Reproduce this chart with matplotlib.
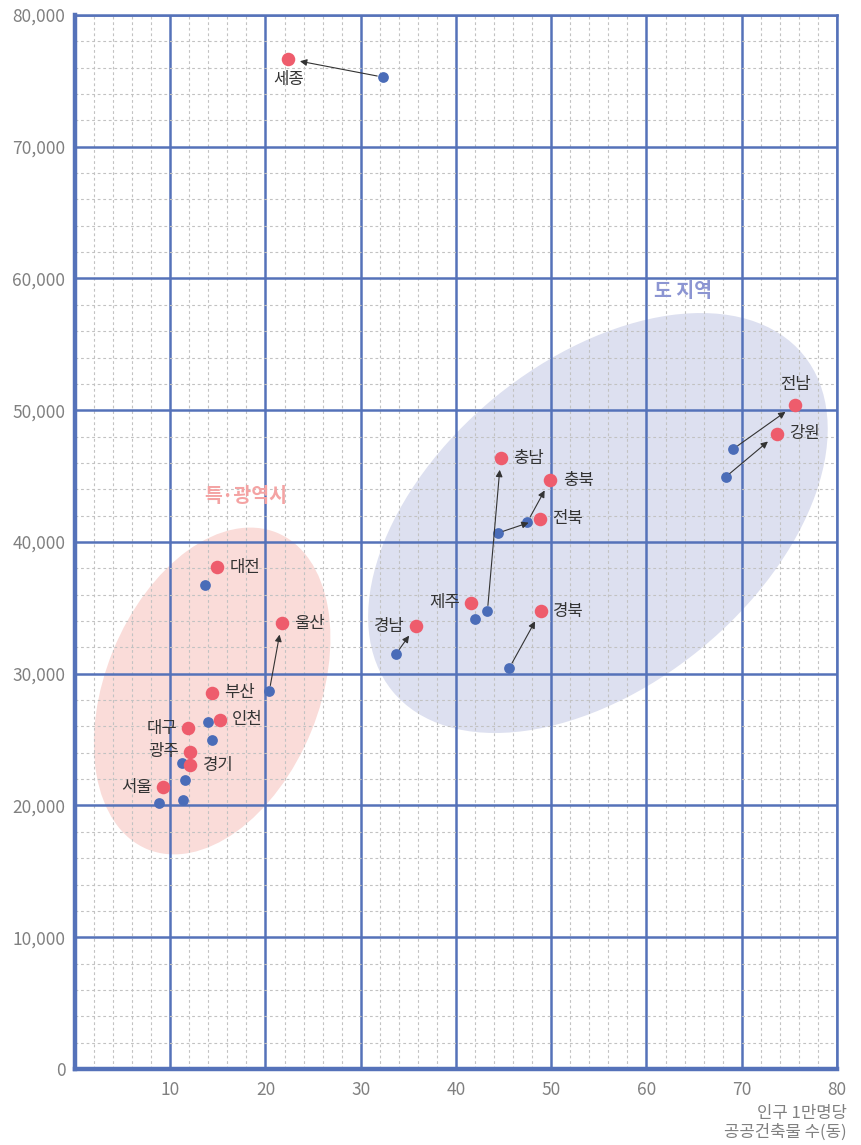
import matplotlib
matplotlib.use("Agg")
import matplotlib.pyplot as plt
from matplotlib.patches import Ellipse
from matplotlib.transforms import ScaledTranslation

plt.rcParams["font.family"] = ["Noto Sans CJK KR", "DejaVu Sans"]

# 지역별 인구 1만명당 공공건축물 수(동) / 값
regions = ["세종", "대전", "울산", "부산", "인천", "대구", "광주", "경기", "서울",
           "충남", "충북", "전북", "제주", "경북", "경남", "전남", "강원"]
prev_x = [32.3, 13.7, 20.4, 14.0, 14.4, 11.2, 11.6, 11.3, 8.8,
          43.3, 47.5, 44.4, 42.0, 45.6, 33.7, 69.1, 68.3]
prev_y = [75290, 36740, 28690, 26340, 24970, 23220, 21930, 20420, 20190,
          34760, 41520, 40680, 34160, 30440, 31500, 47060, 44930]
curr_x = [22.4, 14.9, 21.7, 14.4, 15.2, 11.9, 12.1, 12.1, 9.2,
          44.7, 49.9, 48.8, 41.6, 48.9, 35.8, 75.6, 73.7]
curr_y = [76660, 38100, 33850, 28540, 26490, 25880, 24060, 23070, 21400,
          46370, 44700, 41750, 35370, 34760, 33620, 50400, 48200]
has_arrow = [True, False, True, False, False, False, False, False, False,
             True, True, True, False, True, True, True, True]
label_side = ["below", "right", "right", "right", "right", "left", "left", "right", "left",
              "right", "right", "right", "left", "right", "left", "above", "right"]

group_names = ["특·광역시", "도 지역"]

GRID_BLUE = "#5572b9"
RED = "#ee5c6c"
BLUE = "#4a6cb8"

fig = plt.figure(figsize=(8.62, 11.45), dpi=100)
ax = fig.add_axes([0.087, 0.0664, 0.884, 0.9205])

ax.set_xlim(0, 80)
ax.set_ylim(0, 80000)
ax.set_xticks(range(10, 81, 10))
ax.set_yticks(range(0, 80001, 10000))
ax.set_xticks(range(2, 80, 2), minor=True)
ax.set_yticks(range(2000, 80000, 2000), minor=True)
ax.set_yticklabels([f"{v:,}" for v in range(0, 80001, 10000)])
ax.set_axisbelow(True)
ax.grid(which="major", color=GRID_BLUE, lw=1.8)
ax.grid(which="minor", color="#c2c2c2", lw=0.8, ls=(0, (2.5, 2.5)))
ax.tick_params(which="both", length=0)
ax.tick_params(axis="x", pad=9, labelsize=12.5, labelcolor="#808080")
ax.tick_params(axis="y", pad=7, labelsize=12.5, labelcolor="#808080")
for side in ["left", "bottom"]:
    ax.spines[side].set_linewidth(3.2)
    ax.spines[side].set_color(GRID_BLUE)
for side in ["top", "right"]:
    ax.spines[side].set_linewidth(1.8)
    ax.spines[side].set_color(GRID_BLUE)

# group ellipses (size in inches, centre in data units)
pink = Ellipse((0, 0), 3.42, 2.14, angle=67.8, facecolor="#fadcd9", edgecolor="none",
               zorder=0.2, transform=fig.dpi_scale_trans + ScaledTranslation(14.4, 28690, ax.transData))
lav = Ellipse((0, 0), 5.31, 3.25, angle=39.3, facecolor="#dde0f0", edgecolor="none",
              zorder=0.2, transform=fig.dpi_scale_trans + ScaledTranslation(54.9, 41440, ax.transData))
ax.add_patch(pink)
ax.add_patch(lav)

ax.text(17.9, 43420, group_names[0], color="#f4a3a3", fontsize=14, fontweight="bold",
        ha="center", va="center")
ax.text(63.8, 58980, group_names[1], color="#8c95d2", fontsize=14, fontweight="bold",
        ha="center", va="center")

ax.scatter(prev_x, prev_y, s=60, color=BLUE, zorder=3, linewidths=0)
ax.scatter(curr_x, curr_y, s=95, color=RED, zorder=4, linewidths=0)

for px, py, cx, cy, arrow in zip(prev_x, prev_y, curr_x, curr_y, has_arrow):
    if arrow:
        ax.annotate("", xy=(cx, cy), xytext=(px, py),
                    arrowprops=dict(arrowstyle="-|>", color="#333333", lw=0.8,
                                    shrinkA=4, shrinkB=8.5, mutation_scale=10),
                    zorder=5)

offsets = {"right": ((9, 0), "left", "center"),
           "left": ((-8, 0), "right", "center"),
           "below": ((0, -15), "center", "center"),
           "above": ((0, 15), "center", "center")}
for name, cx, cy, side in zip(regions, curr_x, curr_y, label_side):
    off, ha, va = offsets[side]
    ax.annotate(name, xy=(cx, cy), xytext=off, textcoords="offset points",
                ha=ha, va=va, fontsize=12, color="#333333", zorder=6)

fig.text(847 / 862, 1 - 1123 / 1145, "인구 1만명당\n공공건축물 수(동)", ha="right", va="center",
         multialignment="right", fontsize=12, color="#808080", linespacing=1.15)

fig.savefig("out.png", dpi=100)
